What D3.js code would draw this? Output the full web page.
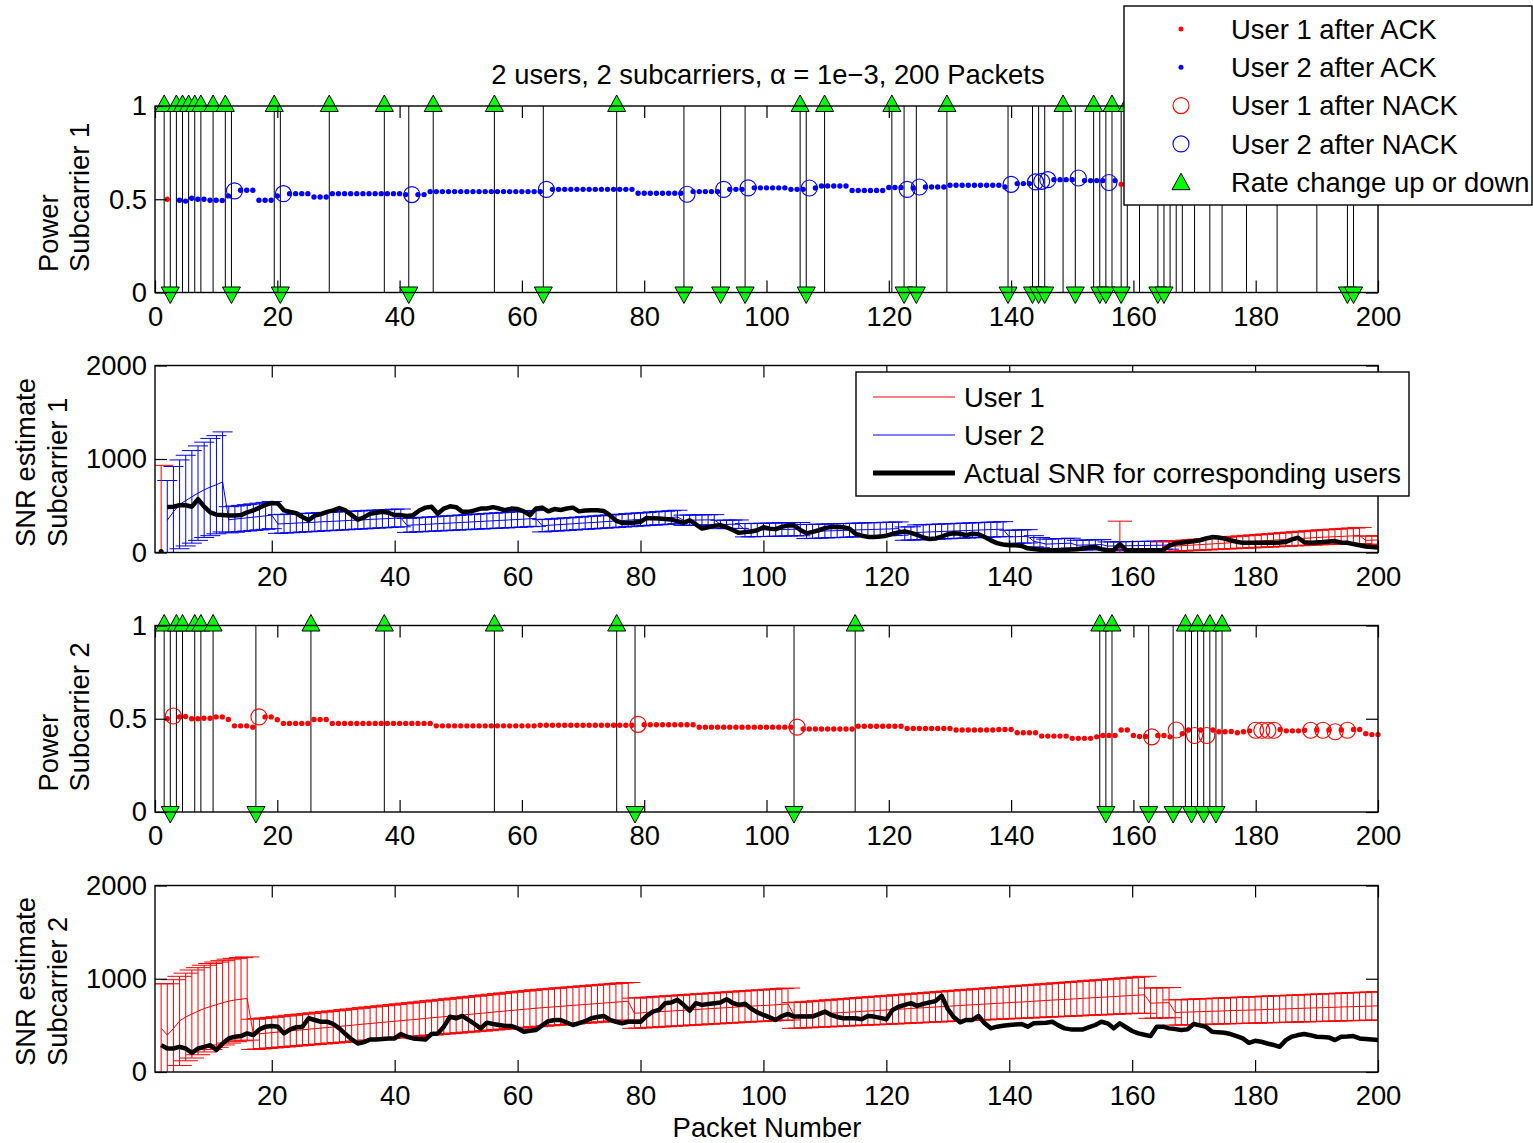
<!DOCTYPE html>
<html>
<head>
<meta charset="utf-8">
<script src="https://cdn.jsdelivr.net/npm/d3@7"></script>
<style>
  body { margin: 0; background: #fff; }
  svg text { font-family: "Liberation Sans", Arial, Helvetica, sans-serif; fill: #000; }
</style>
</head>
<body>
<div id="chart"></div>
<script>
// ---- data (packet numbers 1..200) ----
const xTicks = [0, 20, 40, 60, 80, 100, 120, 140, 160, 180, 200]
const snrXTicks = [20, 40, 60, 80, 100, 120, 140, 160, 180, 200]
const powerTicks = [0, 0.5, 1]
const snrTicks = [0, 1000, 2000]

// which user holds subcarrier 1: [first packet, last packet, user]
const sc1Assign = [[2, 2, 1], [3, 157, 2], [158, 158, 1], [159, 166, 2], [167, 200, 1]]
const sc2Assign = [[2, 200, 1]]

// power on each subcarrier, packet 1..200
const sc1Power = [
  null, 0.50, null, 0.495, 0.49, 0.505, 0.50, 0.50, 0.495, 0.495,
  0.493, 0.518, 0.545, 0.548, 0.548, 0.548, 0.495, 0.495, 0.495, 0.518,
  0.53, 0.53, 0.53, 0.53, 0.53, 0.512, 0.512, 0.512, 0.53, 0.53,
  0.53, 0.53, 0.53, 0.53, 0.53, 0.53, 0.53, 0.53, 0.53, 0.53,
  0.525, 0.525, 0.525, 0.525, 0.541, 0.541, 0.541, 0.541, 0.541, 0.541,
  0.541, 0.541, 0.541, 0.541, 0.541, 0.541, 0.541, 0.541, 0.541, 0.541,
  0.541, 0.541, 0.541, 0.553, 0.553, 0.553, 0.553, 0.553, 0.553, 0.553,
  0.553, 0.553, 0.553, 0.553, 0.553, 0.553, 0.553, 0.553, 0.532, 0.532,
  0.532, 0.532, 0.532, 0.532, 0.532, 0.532, 0.527, 0.541, 0.541, 0.541,
  0.541, 0.541, 0.553, 0.553, 0.553, 0.553, 0.561, 0.561, 0.561, 0.561,
  0.561, 0.561, 0.561, 0.553, 0.553, 0.553, 0.56, 0.56, 0.571, 0.571,
  0.571, 0.571, 0.571, 0.547, 0.547, 0.547, 0.547, 0.547, 0.547, 0.563,
  0.563, 0.563, 0.553, 0.56, 0.566, 0.566, 0.566, 0.566, 0.566, 0.575,
  0.575, 0.575, 0.575, 0.575, 0.575, 0.575, 0.575, 0.575, 0.566, 0.58,
  0.584, 0.584, 0.584, 0.593, 0.596, 0.605, 0.605, 0.605, 0.605, 0.605,
  0.614, 0.60, 0.60, 0.60, 0.60, 0.59, 0.60, 0.58, 0.60, 0.60,
  0.60, 0.60, 0.60, 0.60, 0.60, 0.60, 0.58, 0.58, 0.58, 0.58,
  0.58, 0.58, 0.58, 0.58, 0.58, 0.58, 0.58, 0.58, 0.58, 0.58,
  0.58, 0.58, 0.58, 0.58, 0.58, 0.58, 0.58, 0.58, 0.58, 0.58,
  0.58, 0.58, 0.58, 0.58, 0.58, 0.58, 0.58, 0.58, 0.58, 0.58
]
const sc2Power = [
  null, 0.50, 0.515, 0.51, 0.512, 0.50, 0.50, 0.503, 0.503, 0.51,
  0.51, 0.496, 0.462, 0.462, 0.462, 0.455, 0.51, 0.51, 0.51, 0.495,
  0.475, 0.475, 0.475, 0.475, 0.475, 0.496, 0.496, 0.496, 0.475, 0.475,
  0.475, 0.475, 0.475, 0.475, 0.475, 0.475, 0.475, 0.475, 0.475, 0.475,
  0.475, 0.475, 0.475, 0.475, 0.475, 0.462, 0.462, 0.462, 0.462, 0.462,
  0.462, 0.462, 0.462, 0.462, 0.462, 0.462, 0.462, 0.462, 0.462, 0.462,
  0.462, 0.462, 0.465, 0.465, 0.465, 0.465, 0.465, 0.465, 0.465, 0.465,
  0.465, 0.465, 0.465, 0.465, 0.465, 0.465, 0.465, 0.465, 0.47, 0.468,
  0.468, 0.468, 0.468, 0.468, 0.468, 0.468, 0.468, 0.468, 0.455, 0.455,
  0.455, 0.455, 0.455, 0.455, 0.455, 0.455, 0.455, 0.455, 0.455, 0.455,
  0.455, 0.455, 0.455, 0.455, 0.455, 0.445, 0.445, 0.445, 0.445, 0.445,
  0.445, 0.445, 0.445, 0.445, 0.46, 0.46, 0.46, 0.46, 0.46, 0.46,
  0.46, 0.46, 0.448, 0.448, 0.448, 0.448, 0.448, 0.448, 0.448, 0.448,
  0.44, 0.44, 0.44, 0.44, 0.44, 0.44, 0.44, 0.442, 0.442, 0.442,
  0.425, 0.425, 0.425, 0.425, 0.407, 0.407, 0.407, 0.407, 0.407, 0.395,
  0.395, 0.395, 0.395, 0.403, 0.41, 0.41, 0.41, 0.44, 0.44, 0.41,
  0.405, 0.405, 0.403, 0.41, 0.41, 0.403, 0.44, 0.42, 0.44, 0.41,
  0.44, 0.41, 0.44, 0.43, 0.43, 0.432, 0.425, 0.43, 0.435, 0.438,
  0.438, 0.438, 0.438, 0.442, 0.435, 0.435, 0.435, 0.438, 0.438, 0.44,
  0.438, 0.44, 0.43, 0.44, 0.438, 0.442, 0.442, 0.42, 0.415, 0.415
]

// packets received with NACK (open circles)
const sc1Nack = [13, 21, 42, 64, 87, 93, 97, 107, 123, 125, 140, 144, 145, 146, 151, 156]
const sc2Nack = [3, 17, 79, 105, 163, 167, 170, 172, 180, 181, 182, 183, 189, 191, 193, 195]

// rate changes (between packets)
const sc1RateUp = [1.5, 3.5, 4.5, 5.5, 6.5, 7.5, 9.5, 11.5, 19.5, 28.5, 37.5, 45.5, 55.5, 75.5, 105.5,
  109.5, 120.5, 129.5, 148.5, 153.5, 156.5, 159, 161, 166, 167, 168, 170, 172.5, 174.5, 178.5, 183.5, 190]
const sc1RateDown = [2.5, 12.5, 20.5, 41.5, 63.5, 86.5, 92.5, 96.5, 106.5, 122.5, 124.5, 139.5, 143.5,
  144.5, 145.5, 150.5, 154.5, 155.5, 158, 164, 165, 195, 196]
const sc2RateUp = [1.5, 3.5, 4.5, 6.5, 7.5, 9.5, 25.5, 37.5, 55.5, 75.5, 114.5, 154.5, 156.5, 168.5, 170.5, 172.5, 174.5]
const sc2RateDown = [2.5, 16.5, 78.5, 104.5, 155.5, 162.5, 166.5, 169.5, 171.5, 173.5]

// SNR estimates (mean and half error) -- subcarrier 1, user 2, packets 3..166
const sc1U2Packets = d3.range(3, 167)
const sc1EstU2 = [
  345, 435, 515, 555, 595, 635, 670, 700, 725, 755,
  350, 357, 364, 371, 378, 385, 392, 400,
  305, 308, 311, 315, 318, 321, 324, 328, 331, 334, 337, 341, 344, 347, 350, 354, 357, 360, 363, 367, 370,
  290, 294, 297, 301, 304, 308, 311, 315, 318, 322, 325, 329, 332, 336, 339, 343, 346, 350, 353, 357, 361, 365,
  286, 290, 295, 299, 303, 307, 312, 316, 320, 324, 329, 333, 337, 341, 346, 350, 354, 358, 363, 367, 371, 375, 380,
  345, 346, 347, 348, 349, 350,
  300, 301, 302, 303,
  238, 239, 241, 242, 243, 245, 246, 247, 249, 250,
  224, 226, 228, 230, 232, 234, 236, 238, 241, 243, 245, 247, 249, 251, 253, 256,
  202, 204,
  215, 217, 220, 222, 225, 227, 230, 232, 235, 237, 240, 242, 245, 247, 250,
  167, 169, 171, 173,
  120, 105, 90, 92, 95, 97, 100,
  78, 80, 81, 83, 85,
  69, 70, 71, 72, 73, 74, 75, 76, 77, 78, 80
]
const sc1ErrU2 = [
  425, 485, 475, 485, 495, 505, 510, 520, 525, 535,
  140, 140, 140, 141, 142, 143, 144, 145,
  100, 100, 100, 100, 99, 99, 99, 99, 98, 98, 98, 98, 97, 97, 97, 97, 96, 96, 96, 96, 95,
  75, 75, 76, 76, 77, 77, 78, 78, 79, 79, 80, 80, 81, 81, 82, 82, 83, 83, 84, 84, 85, 85,
  66, 66, 66, 67, 67, 67, 67, 68, 68, 68, 69, 69, 69, 69, 70, 70, 70, 70, 71, 71, 71, 72, 72,
  55, 55, 55, 55, 55, 55,
  45, 45, 45, 45,
  71, 71, 71, 71, 71, 71, 71, 71, 71, 71,
  75, 75, 75, 74, 74, 74, 74, 73, 73, 73, 73, 72, 72, 72, 72, 71,
  71, 71,
  80, 80, 80, 80, 80, 80, 80, 80, 80, 80, 80, 80, 80, 80, 80,
  71, 71, 71, 71,
  60, 55, 53, 53, 53, 53, 53,
  53, 53, 53, 53, 53,
  44, 44, 44, 44, 44, 44, 44, 44, 44, 44, 44
]
// subcarrier 1, user 1
const sc1U1Packets = [2, 158, 165, 166, 167, 168, 169, 170, 171, 172, 173, 174, 175, 176, 177, 178, 179, 180,
  181, 182, 183, 184, 185, 186, 187, 188, 189, 190, 191, 192, 193, 194, 195, 196, 197, 198, 199, 200]
const sc1EstU1 = [466, 170, 60, 64, 68, 72, 76, 80, 84, 88, 92, 96, 100, 104, 108, 112, 116, 120,
  124, 128, 132, 136, 140, 144, 148, 152, 156, 160, 163, 166, 169, 172, 175, 178, 182, 130, 132, 134]
const sc1ErrU1 = [466, 165, 53, 54, 55, 56, 57, 58, 59, 60, 61, 62, 63, 64, 65, 66, 67, 68,
  69, 70, 71, 72, 73, 74, 75, 76, 77, 78, 79, 80, 81, 82, 83, 84, 86, 45, 45, 45]

// subcarrier 2, user 1, packets 2..200
const sc2Packets = d3.range(2, 201)
const sc2Est = [
  470, 396, 465, 548, 590, 622, 652, 680, 702, 722, 742, 760, 772, 781, 788,
  404, 410, 416, 422, 428, 434, 441, 447, 453, 459, 465, 471, 477, 483, 489, 495, 501, 508, 514, 520,
  526, 532, 538, 544, 550, 556, 562, 568, 575, 581, 587, 593, 599, 605, 611, 617, 623, 629, 635, 642,
  648, 654, 660, 666, 672, 678, 684,
  689, 694, 699, 704, 709, 714, 719, 724, 729, 734, 739, 744, 749, 754, 759,
  630, 634, 638, 642, 646, 650, 654, 658, 662, 666, 670, 674, 678, 682, 686, 690, 694, 698, 702, 706,
  710, 713, 717, 721, 725, 729,
  606, 610, 614, 618, 622, 626, 630, 634, 638, 642, 646, 650, 654, 657, 661, 665, 669, 673, 677, 681,
  685, 689, 693, 697, 701,
  705, 709, 713, 717, 721, 724, 728, 732, 736, 740, 744, 748, 751, 755, 759, 763, 767, 771, 775, 778,
  782, 786, 790, 794, 798, 801, 805, 809, 813, 817, 821, 824, 828,
  738, 740, 742, 744,
  638, 640, 642, 645, 647, 649, 651, 653, 655, 658, 660, 662, 664, 666, 668, 671, 673, 675, 677, 679,
  681, 684, 686, 688, 690, 692, 694, 697, 699, 701, 703, 705, 707, 710
]
const sc2Err = [
  476, 550, 525, 478, 470, 472, 467, 465, 462, 457, 452, 450, 447, 446, 446,
  162, 163, 164, 164, 165, 166, 167, 168, 168, 169, 170, 171, 171, 172, 173, 174, 175, 175, 176, 177,
  178, 178, 179, 180, 181, 182, 182, 183, 184, 185, 185, 186, 187, 188, 189, 189, 190, 191, 192, 192,
  193, 194, 195, 196, 196, 197, 198,
  198, 198, 198, 199, 199, 199, 199, 200, 200, 200, 200, 200, 201, 201, 201,
  162, 162, 163, 163, 163, 164, 164, 164, 165, 165, 165, 166, 166, 166, 167, 167, 167, 168, 168, 168,
  169, 169, 170, 170, 171, 171,
  138, 139, 140, 141, 142, 143, 144, 145, 146, 147, 148, 149, 150, 151, 152, 153, 154, 155, 156, 157,
  158, 159, 160, 161, 162,
  163, 164, 165, 166, 167, 168, 169, 170, 171, 172, 173, 174, 175, 176, 177, 178, 179, 180, 181, 182,
  183, 184, 185, 186, 187, 188, 189, 190, 191, 192, 193, 195, 198,
  162, 162, 162, 162,
  135, 136, 136, 137, 137, 138, 138, 139, 139, 140, 140, 141, 141, 142, 142, 143, 143, 144, 144, 145,
  145, 146, 146, 147, 147, 148, 148, 149, 149, 150, 150, 151, 151, 152
]

// actual SNR of the scheduled user
const sc1ActualFirst = [2, 10]
const sc1ActualPackets = d3.range(3, 201)
const sc1Actual = [
  487, 490, 505, 505, 490, 570, 490, 430, 405, 400,
  395, 395, 400, 430, 450, 480, 510, 530, 525, 450,
  435, 420, 380, 345, 395, 410, 435, 450, 475, 450,
  400, 352, 375, 415, 425, 435, 425, 400, 400, 390,
  400, 450, 480, 490, 415, 470, 494, 485, 435, 435,
  450, 470, 470, 485, 470, 452, 470, 465, 440, 400,
  470, 480, 440, 465, 455, 470, 480, 440, 450, 452,
  452, 445, 400, 340, 316, 316, 320, 327, 370, 365,
  363, 358, 352, 335, 316, 345, 300, 256, 270, 285,
  292, 270, 240, 210, 218, 225, 238, 270, 255, 250,
  274, 290, 292, 240, 205, 220, 238, 260, 274, 274,
  270, 255, 200, 180, 167, 167, 170, 180, 200, 215,
  225, 210, 190, 160, 145, 150, 170, 195, 205, 200,
  185, 200, 195, 165, 130, 100, 85, 78, 78, 70,
  45, 38, 30, 27, 25, 25, 28, 32, 35, 45,
  55, 58, 35, 25, 25, 90, 25, 25, 25, 25,
  25, 25, 25, 70, 96, 105, 113, 120, 130, 150,
  165, 160, 150, 131, 115, 103, 103, 103, 103, 105,
  105, 108, 113, 140, 158, 110, 105, 108, 112, 118,
  122, 108, 105, 90, 78, 65, 58, 53
]
const sc2ActualPackets = d3.range(2, 201)
const sc2Actual = [
  288, 252, 252, 270, 252, 205, 252, 270, 288, 235,
  306, 360, 378, 385, 414, 396, 457, 486, 493, 486,
  414, 457, 480, 486, 576, 558, 539, 539, 515, 468,
  407, 350, 306, 320, 349, 349, 355, 360, 360, 407,
  378, 360, 355, 349, 407, 414, 486, 593, 576, 601,
  558, 515, 468, 529, 515, 504, 493, 493, 468, 432,
  443, 450, 500, 545, 558, 558, 530, 504, 525, 545,
  576, 590, 601, 560, 539, 522, 539, 539, 539, 601,
  648, 666, 738, 745, 774, 720, 659, 738, 720, 730,
  738, 745, 781, 740, 720, 731, 680, 640, 612, 585,
  558, 600, 623, 594, 594, 594, 594, 620, 648, 612,
  590, 576, 576, 576, 565, 601, 594, 580, 565, 666,
  700, 720, 738, 709, 731, 745, 760, 817, 676, 586,
  533, 558, 558, 601, 522, 468, 486, 495, 504, 510,
  515, 486, 522, 525, 529, 539, 500, 468, 457, 457,
  457, 480, 504, 539, 522, 468, 522, 480, 440, 414,
  400, 385, 486, 486, 468, 460, 450, 457, 515, 500,
  486, 432, 425, 421, 407, 385, 360, 313, 335, 324,
  306, 290, 270, 342, 380, 396, 407, 395, 378, 375,
  371, 342, 378, 380, 385, 360, 355, 349, 342
]

// ---- drawing ----
const fontSize = 27.4
const userColor = { 1: "#ff0000", 2: "#0000ff" }
const green = "#00ff00"

const svg = d3.select("#chart").append("svg")
  .attr("width", 1533)
  .attr("height", 1143)

const xPow = d3.scaleLinear().domain([0, 200]).range([155, 1378])
const xSnr = d3.scaleLinear().domain([1, 200]).range([155, 1378])
const yP1 = d3.scaleLinear().domain([0, 1]).range([292.5, 106])
const yS1 = d3.scaleLinear().domain([0, 2000]).range([552.5, 365.5])
const yP2 = d3.scaleLinear().domain([0, 1]).range([812, 625.5])
const yS2 = d3.scaleLinear().domain([0, 2000]).range([1072, 885.5])

function userOf(assign, p) {
  for (const [a, b, u] of assign) if (p >= a && p <= b) return u
  return 1
}

function drawFrame(g, x, y, xt, yt) {
  const [y0, y1] = y.range()
  const [x0, x1] = x.range()
  const fmt = d3.format("~g")
  g.append("g").attr("transform", `translate(0,${y0})`)
    .call(d3.axisBottom(x).tickValues(xt).tickSizeInner(-12).tickSizeOuter(0).tickPadding(14).tickFormat(fmt))
  g.append("g").attr("transform", `translate(0,${y1})`)
    .call(d3.axisTop(x).tickValues(xt).tickSizeInner(-12).tickSizeOuter(0).tickFormat(""))
  g.append("g").attr("transform", `translate(${x0},0)`)
    .call(d3.axisLeft(y).tickValues(yt).tickSizeInner(-12).tickSizeOuter(0).tickPadding(8).tickFormat(fmt))
  g.append("g").attr("transform", `translate(${x1},0)`)
    .call(d3.axisRight(y).tickValues(yt).tickSizeInner(-12).tickSizeOuter(0).tickFormat(""))
  g.selectAll(".domain").remove()
  g.selectAll(".tick line").attr("stroke", "#000").attr("stroke-width", 1.2)
  g.selectAll(".tick text")
    .attr("font-size", fontSize)
    .attr("font-family", "'Liberation Sans', Arial, Helvetica, sans-serif")
    .attr("fill", "#000")
  g.append("rect")
    .attr("x", x0).attr("y", y1)
    .attr("width", x1 - x0).attr("height", y0 - y1)
    .attr("fill", "none").attr("stroke", "#000").attr("stroke-width", 1.4)
}

function yLabel(lines, xs, yStart) {
  lines.forEach((t, i) => {
    svg.append("text")
      .attr("transform", `translate(${xs[i]},${yStart}) rotate(-90)`)
      .attr("text-anchor", "start")
      .attr("font-size", fontSize)
      .text(t)
  })
}

function drawPower(x, y, power, assign, nacks, ups, downs) {
  const g = svg.append("g")
  // rate change stems
  g.append("g").selectAll("line")
    .data(ups.concat(downs))
    .join("line")
    .attr("x1", d => x(d)).attr("x2", d => x(d))
    .attr("y1", y(0)).attr("y2", y(1))
    .attr("stroke", "#000").attr("stroke-width", 1)

  const pts = power.map((v, i) => ({ p: i + 1, v: v, u: userOf(assign, i + 1) }))
    .filter(d => d.v !== null)

  g.append("g").selectAll("circle")
    .data(pts.filter(d => !nacks.includes(d.p)))
    .join("circle")
    .attr("cx", d => x(d.p)).attr("cy", d => y(d.v))
    .attr("r", 2.7)
    .attr("fill", d => userColor[d.u])

  g.append("g").selectAll("circle")
    .data(pts.filter(d => nacks.includes(d.p)))
    .join("circle")
    .attr("cx", d => x(d.p)).attr("cy", d => y(d.v))
    .attr("r", 8)
    .attr("fill", "none")
    .attr("stroke", d => userColor[d.u])
    .attr("stroke-width", 1.1)

  // triangles: up at the top, down at the bottom
  g.append("g").selectAll("path")
    .data(downs)
    .join("path")
    .attr("d", "M0,11L9,-5.5L-9,-5.5Z")
    .attr("transform", d => `translate(${x(d)},${y(0)})`)
    .attr("fill", green).attr("stroke", "#000").attr("stroke-width", 1)
  g.append("g").selectAll("path")
    .data(ups)
    .join("path")
    .attr("d", "M0,-11L9,5.5L-9,5.5Z")
    .attr("transform", d => `translate(${x(d)},${y(1)})`)
    .attr("fill", green).attr("stroke", "#000").attr("stroke-width", 1)
  return g
}

let clipId = 0
function clipped(x, y) {
  const id = "clip" + (clipId++)
  const [y0, y1] = y.range()
  const [x0, x1] = x.range()
  svg.append("clipPath").attr("id", id)
    .append("rect").attr("x", x0).attr("y", y1).attr("width", x1 - x0).attr("height", y0 - y1)
  return svg.append("g").attr("clip-path", `url(#${id})`)
}

function drawErrorbars(g, x, y, packets, est, err, color) {
  const pts = packets.map((p, i) => ({ p: p, m: est[i], e: err[i] }))
  const tee = (d3.max(packets) - d3.min(packets)) / 100
  const eb = g.append("g").attr("stroke", color).attr("stroke-width", 1).attr("fill", "none")
  eb.selectAll(".stem").data(pts).join("line").attr("class", "stem")
    .attr("x1", d => x(d.p)).attr("x2", d => x(d.p))
    .attr("y1", d => y(d.m - d.e)).attr("y2", d => y(d.m + d.e))
  eb.selectAll(".capHi").data(pts).join("line").attr("class", "capHi")
    .attr("x1", d => x(d.p - tee)).attr("x2", d => x(d.p + tee))
    .attr("y1", d => y(d.m + d.e)).attr("y2", d => y(d.m + d.e))
  eb.selectAll(".capLo").data(pts).join("line").attr("class", "capLo")
    .attr("x1", d => x(d.p - tee)).attr("x2", d => x(d.p + tee))
    .attr("y1", d => y(d.m - d.e)).attr("y2", d => y(d.m - d.e))
  // mean line, broken where packets are not consecutive
  const runs = []
  pts.forEach((d, i) => {
    if (i === 0 || d.p - pts[i - 1].p > 1) runs.push([])
    runs[runs.length - 1].push(d)
  })
  eb.selectAll(".mean").data(runs).join("path").attr("class", "mean")
    .attr("d", d3.line().x(d => x(d.p)).y(d => y(d.m)))
}

function drawActual(g, x, y, packets, values) {
  g.append("path")
    .datum(packets.map((p, i) => [p, values[i]]))
    .attr("fill", "none")
    .attr("stroke", "#000")
    .attr("stroke-width", 4.5)
    .attr("stroke-linejoin", "round")
    .attr("d", d3.line().x(d => x(d[0])).y(d => y(d[1])))
}

// panel 1: power subcarrier 1
drawPower(xPow, yP1, sc1Power, sc1Assign, sc1Nack, sc1RateUp, sc1RateDown)
drawFrame(svg.append("g"), xPow, yP1, xTicks, powerTicks)
yLabel(["Power", "Subcarrier 1"], [58, 89], 272)

// panel 2: SNR estimate subcarrier 1
let c2 = clipped(xSnr, yS1)
drawErrorbars(c2, xSnr, yS1, sc1U2Packets, sc1EstU2, sc1ErrU2, userColor[2])
drawErrorbars(c2, xSnr, yS1, sc1U1Packets, sc1EstU1, sc1ErrU1, userColor[1])
drawActual(c2, xSnr, yS1, sc1ActualPackets, sc1Actual)
c2.append("circle")
  .attr("cx", xSnr(sc1ActualFirst[0])).attr("cy", yS1(sc1ActualFirst[1]))
  .attr("r", 2.5).attr("fill", "#000")
drawFrame(svg.append("g"), xSnr, yS1, snrXTicks, snrTicks)
yLabel(["SNR estimate", "Subcarrier 1"], [35, 67], 547)

// panel 3: power subcarrier 2
drawPower(xPow, yP2, sc2Power, sc2Assign, sc2Nack, sc2RateUp, sc2RateDown)
drawFrame(svg.append("g"), xPow, yP2, xTicks, powerTicks)
yLabel(["Power", "Subcarrier 2"], [58, 89], 791.5)

// panel 4: SNR estimate subcarrier 2
let c4 = clipped(xSnr, yS2)
drawErrorbars(c4, xSnr, yS2, sc2Packets, sc2Est, sc2Err, userColor[1])
drawActual(c4, xSnr, yS2, sc2ActualPackets, sc2Actual)
drawFrame(svg.append("g"), xSnr, yS2, snrXTicks, snrTicks)
yLabel(["SNR estimate", "Subcarrier 2"], [35, 67], 1066)

// titles
svg.append("text")
  .attr("x", 768).attr("y", 83.5)
  .attr("text-anchor", "middle")
  .attr("font-size", fontSize)
  .text("2 users, 2 subcarriers, \u03b1 = 1e\u22123, 200 Packets")
svg.append("text")
  .attr("x", 767).attr("y", 1137)
  .attr("text-anchor", "middle")
  .attr("font-size", fontSize)
  .text("Packet Number")

// legend of the power panels
const leg1 = svg.append("g")
leg1.append("rect")
  .attr("x", 1124).attr("y", 6).attr("width", 408).attr("height", 199)
  .attr("fill", "#fff").attr("stroke", "#000").attr("stroke-width", 1.4)
const leg1Rows = [
  { label: "User 1 after ACK", kind: "dot", color: userColor[1] },
  { label: "User 2 after ACK", kind: "dot", color: userColor[2] },
  { label: "User 1 after NACK", kind: "ring", color: userColor[1] },
  { label: "User 2 after NACK", kind: "ring", color: userColor[2] },
  { label: "Rate change up or down", kind: "tri", color: green }
]
leg1Rows.forEach((r, i) => {
  const cy = 29 + i * 38.3
  if (r.kind === "dot") {
    leg1.append("circle").attr("cx", 1181).attr("cy", cy).attr("r", 2.5).attr("fill", r.color)
  } else if (r.kind === "ring") {
    leg1.append("circle").attr("cx", 1181).attr("cy", cy).attr("r", 8)
      .attr("fill", "none").attr("stroke", r.color).attr("stroke-width", 1.1)
  } else {
    leg1.append("path").attr("d", "M0,-11L9,5.5L-9,5.5Z")
      .attr("transform", `translate(1181,${cy + 2})`)
      .attr("fill", r.color).attr("stroke", "#000")
  }
  leg1.append("text").attr("x", 1231).attr("y", cy + 9.7).attr("font-size", fontSize).text(r.label)
})

// legend of the SNR panels
const leg2 = svg.append("g")
leg2.append("rect")
  .attr("x", 856).attr("y", 372).attr("width", 553).attr("height", 124)
  .attr("fill", "#fff").attr("stroke", "#000").attr("stroke-width", 1.4)
const leg2Rows = [
  { label: "User 1", color: userColor[1], w: 1 },
  { label: "User 2", color: userColor[2], w: 1 },
  { label: "Actual SNR for corresponding users", color: "#000", w: 5 }
]
leg2Rows.forEach((r, i) => {
  const cy = 397 + i * 38
  leg2.append("line").attr("x1", 873).attr("x2", 955).attr("y1", cy).attr("y2", cy)
    .attr("stroke", r.color).attr("stroke-width", r.w)
  leg2.append("text").attr("x", 964).attr("y", cy + 9.7).attr("font-size", fontSize).text(r.label)
})
</script>
</body>
</html>
